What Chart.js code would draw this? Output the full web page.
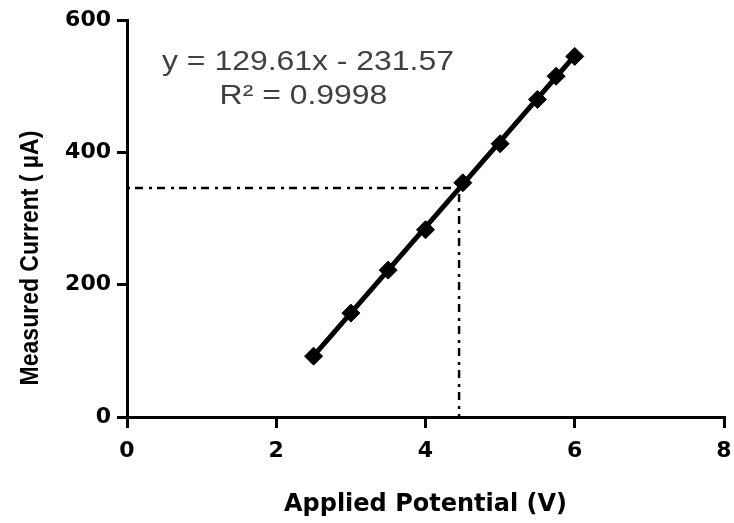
<!DOCTYPE html>
<html>
<head>
<meta charset="utf-8">
<script src="https://cdn.jsdelivr.net/npm/chart.js@4/dist/chart.umd.min.js"></script>
<style>
    html, body { margin: 0; padding: 0; background: #fff; }
</style>
</head>
<body>
<canvas id="myChart" width="734" height="523"></canvas>
<script>
// data
const potential = [2.5, 3, 3.5, 4, 4.5, 5, 5.5, 5.75, 6];
const current = [92, 157, 222, 283, 354, 413, 480, 515, 545];
const fitX = [2.5, 6];
const fitY = [92.5, 546];
const guideX = [0, 4.45, 4.45];
const guideY = [346, 346, 0];
const xTicks = [0, 2, 4, 6, 8];
const yTicks = [0, 200, 400, 600];
const equationLines = ["y = 129.61x - 231.57", "R\u00B2 = 0.9998"];
const yTitle = "Measured Current ( \u00B5A)";

const tickFont = { family: "DejaVu Sans", size: 22, weight: "bold" };
const xTitleFont = { family: "DejaVu Sans", size: 24, weight: "bold" };

// regression text + y title (both slightly widened like the original)
const textPlugin = {
    id: "extraText",
    afterDatasetsDraw(chart) {
        const ctx = chart.ctx;
        const area = chart.chartArea;
        ctx.save();
        ctx.fillStyle = "#404040";
        ctx.font = "28px 'Liberation Sans', Arial, sans-serif";
        ctx.textAlign = "center";
        ctx.textBaseline = "middle";
        ctx.translate(area.left + 181, area.top + 42);
        ctx.scale(1.14, 1);
        ctx.fillText(equationLines[0], 0, 0);
        ctx.fillText(equationLines[1], -4, 34);
        ctx.restore();

        ctx.save();
        ctx.fillStyle = "#000";
        ctx.font = "bold 23px 'Liberation Sans', Arial, sans-serif";
        ctx.textAlign = "center";
        ctx.textBaseline = "middle";
        ctx.translate(31, area.top + 238);
        ctx.rotate(-Math.PI / 2);
        ctx.scale(1, 1.1);
        ctx.fillText(yTitle, 0, 0);
        ctx.restore();
    }
};

const toPoints = (xs, ys) => xs.map((x, i) => ({ x: x, y: ys[i] }));

new Chart(document.getElementById("myChart"), {
    type: "scatter",
    data: {
        datasets: [
            {
                label: "Measured",
                data: toPoints(potential, current),
                pointStyle: "rectRot",
                pointRadius: 9,
                backgroundColor: "#000",
                borderColor: "#000",
                borderWidth: 1,
                showLine: false
            },
            {
                label: "Fit",
                type: "line",
                data: toPoints(fitX, fitY),
                borderColor: "#000",
                borderWidth: 5,
                pointRadius: 0,
                fill: false
            },
            {
                label: "Guide",
                type: "line",
                data: toPoints(guideX, guideY),
                borderColor: "#000",
                borderWidth: 2.5,
                borderDash: [3, 5, 8, 6],
                pointRadius: 0,
                fill: false,
                clip: false
            }
        ]
    },
    options: {
        responsive: false,
        animation: false,
        devicePixelRatio: 1,
        layout: { padding: { top: 20, right: 7, left: 0, bottom: 0 } },
        plugins: { legend: { display: false }, tooltip: { enabled: false } },
        scales: {
            x: {
                type: "linear",
                min: 0,
                max: 8,
                afterBuildTicks: (scale) => { scale.ticks = xTicks.map(v => ({ value: v })); },
                afterFit: (scale) => {
                    scale.height = 106;
                    scale.paddingLeft = 0;
                    scale.paddingRight = 0;
                },
                grid: { drawOnChartArea: false, drawTicks: true, tickLength: 11, color: "#000", lineWidth: 3 },
                border: { color: "#000", width: 3 },
                ticks: { color: "#000", font: tickFont, padding: 10 },
                title: { display: true, text: "Applied Potential (V)", color: "#000", font: xTitleFont, padding: { top: 10 } }
            },
            y: {
                type: "linear",
                min: 0,
                max: 600,
                afterBuildTicks: (scale) => { scale.ticks = yTicks.map(v => ({ value: v })); },
                afterFit: (scale) => {
                    scale.width = 127;
                    scale.paddingTop = 0;
                    scale.paddingBottom = 0;
                },
                grid: { drawOnChartArea: false, drawTicks: true, tickLength: 10, color: "#000", lineWidth: 3 },
                border: { color: "#000", width: 3 },
                ticks: { color: "#000", font: tickFont, padding: 6 },
                title: { display: false }
            }
        }
    },
    plugins: [textPlugin]
});
</script>
</body>
</html>
